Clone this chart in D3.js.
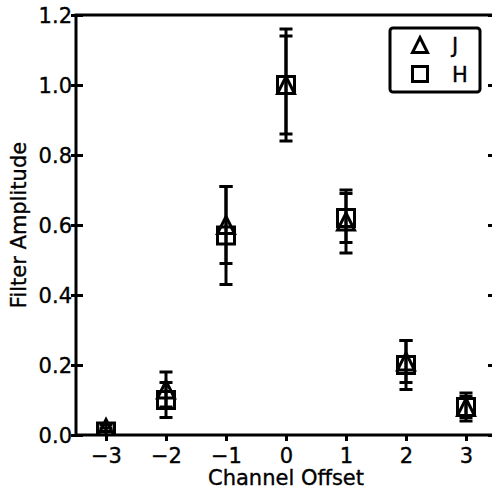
<!DOCTYPE html>
<html>
<head>
<meta charset="utf-8">
<script src="https://cdn.jsdelivr.net/npm/d3@7"></script>
<style>
  html, body { margin: 0; padding: 0; background: #fff; }
  svg { display: block; }
  text { font-family: "DejaVu Sans", sans-serif; fill: #000; stroke: #000; stroke-width: 0.35px; }
</style>
</head>
<body>
<svg id="chart" width="492" height="489"></svg>
<script>
// ---- data ----
const offsets = [-3, -2, -1, 0, 1, 2, 3];
const jValues = [0.02, 0.13, 0.60, 1.00, 0.61, 0.21, 0.08];
const jErrors = [0.01, 0.05, 0.11, 0.14, 0.09, 0.06, 0.03];
const hValues = [0.01, 0.10, 0.57, 1.00, 0.62, 0.20, 0.08];
const hErrors = [0.01, 0.05, 0.14, 0.16, 0.07, 0.07, 0.04];
const xTicks = [-3, -2, -1, 0, 1, 2, 3];
const yTicks = [0.0, 0.2, 0.4, 0.6, 0.8, 1.0, 1.2];
const seriesNames = ["J", "H"];
const xLabel = "Channel Offset";
const yLabel = "Filter Amplitude";

// ---- layout ----
const pL = 76, pR = 496, pT = 15, pB = 435;
const svg = d3.select("#chart");
const x = d3.scaleLinear().domain([-3.5, 3.5]).range([pL, pR]);
const y = d3.scaleLinear().domain([0, 1.2]).range([pB, pT]);
const LW = 3, MS = 17, CAP = 13, FS = 21;

svg.append("defs").append("clipPath").attr("id", "plotclip")
  .append("rect").attr("x", pL).attr("y", pT)
  .attr("width", pR - pL).attr("height", pB - pT);

const fmtX = d => (d < 0 ? "\u2212" + Math.abs(d) : String(d));

// x axis
const xAxis = svg.append("g").attr("transform", `translate(0,${pB})`)
  .call(d3.axisBottom(x).tickValues(xTicks).tickFormat(fmtX).tickSizeOuter(0).tickSizeInner(6).tickPadding(0));
xAxis.select(".domain").remove();
xAxis.selectAll(".tick line").attr("stroke", "#000").attr("stroke-width", LW).attr("y1", 0).attr("y2", 6);
xAxis.selectAll(".tick text").attr("font-size", FS).attr("y", 28).attr("dy", 0)
  .attr("font-family", "DejaVu Sans").attr("fill", "#000");

// y axis left
const yAxis = svg.append("g").attr("transform", `translate(${pL},0)`)
  .call(d3.axisLeft(y).tickValues(yTicks).tickFormat(d3.format(".1f")).tickSizeOuter(0).tickSizeInner(5).tickPadding(0));
yAxis.select(".domain").remove();
yAxis.selectAll(".tick line").attr("stroke", "#000").attr("stroke-width", LW).attr("x1", -5).attr("x2", 7);
yAxis.selectAll(".tick text").attr("font-size", FS).attr("x", -4).attr("dy", 7.5)
  .attr("font-family", "DejaVu Sans").attr("fill", "#000");

// y axis right (inward ticks only)
const yAxisR = svg.append("g").attr("transform", `translate(${pR},0)`)
  .call(d3.axisRight(y).tickValues(yTicks).tickFormat("").tickSizeOuter(0).tickSizeInner(-8));
yAxisR.select(".domain").remove();
yAxisR.selectAll(".tick line").attr("stroke", "#000").attr("stroke-width", LW);

// spines
svg.append("rect").attr("x", pL).attr("y", pT)
  .attr("width", pR - pL).attr("height", pB - pT)
  .attr("fill", "none").attr("stroke", "#000").attr("stroke-width", LW);

// labels
svg.append("text").attr("x", (pL + pR) / 2).attr("y", 485)
  .attr("text-anchor", "middle").attr("font-size", FS).text(xLabel);
svg.append("text").attr("transform", `translate(26,${(pT + pB) / 2}) rotate(-90)`)
  .attr("text-anchor", "middle").attr("font-size", FS).text(yLabel);

// markers
const triPath = s => `M0,${-s/2}L${s/2},${s/2}L${-s/2},${s/2}Z`;
const sqPath = s => `M${-s/2},${-s/2}H${s/2}V${s/2}H${-s/2}Z`;

const plot = svg.append("g").attr("clip-path", "url(#plotclip)");
const series = [
  { name: seriesNames[0], vals: jValues, errs: jErrors, shape: triPath },
  { name: seriesNames[1], vals: hValues, errs: hErrors, shape: sqPath }
];

series.forEach(s => {
  const g = plot.append("g");
  const pts = offsets.map((o, i) => ({ o, v: s.vals[i], e: s.errs[i] }));
  g.selectAll(".bar").data(pts).join("line")
    .attr("x1", d => x(d.o)).attr("x2", d => x(d.o))
    .attr("y1", d => y(d.v - d.e)).attr("y2", d => y(d.v + d.e))
    .attr("stroke", "#000").attr("stroke-width", LW);
  ["lo", "hi"].forEach(k => {
    g.selectAll(".cap" + k).data(pts).join("line")
      .attr("x1", d => x(d.o) - CAP / 2).attr("x2", d => x(d.o) + CAP / 2)
      .attr("y1", d => y(k === "lo" ? d.v - d.e : d.v + d.e))
      .attr("y2", d => y(k === "lo" ? d.v - d.e : d.v + d.e))
      .attr("stroke", "#000").attr("stroke-width", LW);
  });
  g.selectAll(".mk").data(pts).join("path")
    .attr("d", s.shape(MS))
    .attr("transform", d => `translate(${x(d.o)},${y(d.v)})`)
    .attr("fill", "none").attr("stroke", "#000").attr("stroke-width", LW)
    .attr("stroke-linejoin", "miter");
});

// legend
const lg = svg.append("g");
lg.append("rect").attr("x", 390).attr("y", 28).attr("width", 90).attr("height", 64)
  .attr("rx", 3).attr("fill", "#fff").attr("stroke", "#000").attr("stroke-width", LW);
series.forEach((s, i) => {
  const cy = 45 + i * 29;
  lg.append("path").attr("d", s.shape(15)).attr("transform", `translate(420,${cy})`)
    .attr("fill", "none").attr("stroke", "#000").attr("stroke-width", LW);
  lg.append("text").attr("x", 452).attr("y", cy + 8).attr("font-size", FS).text(s.name);
});
</script>
</body>
</html>
